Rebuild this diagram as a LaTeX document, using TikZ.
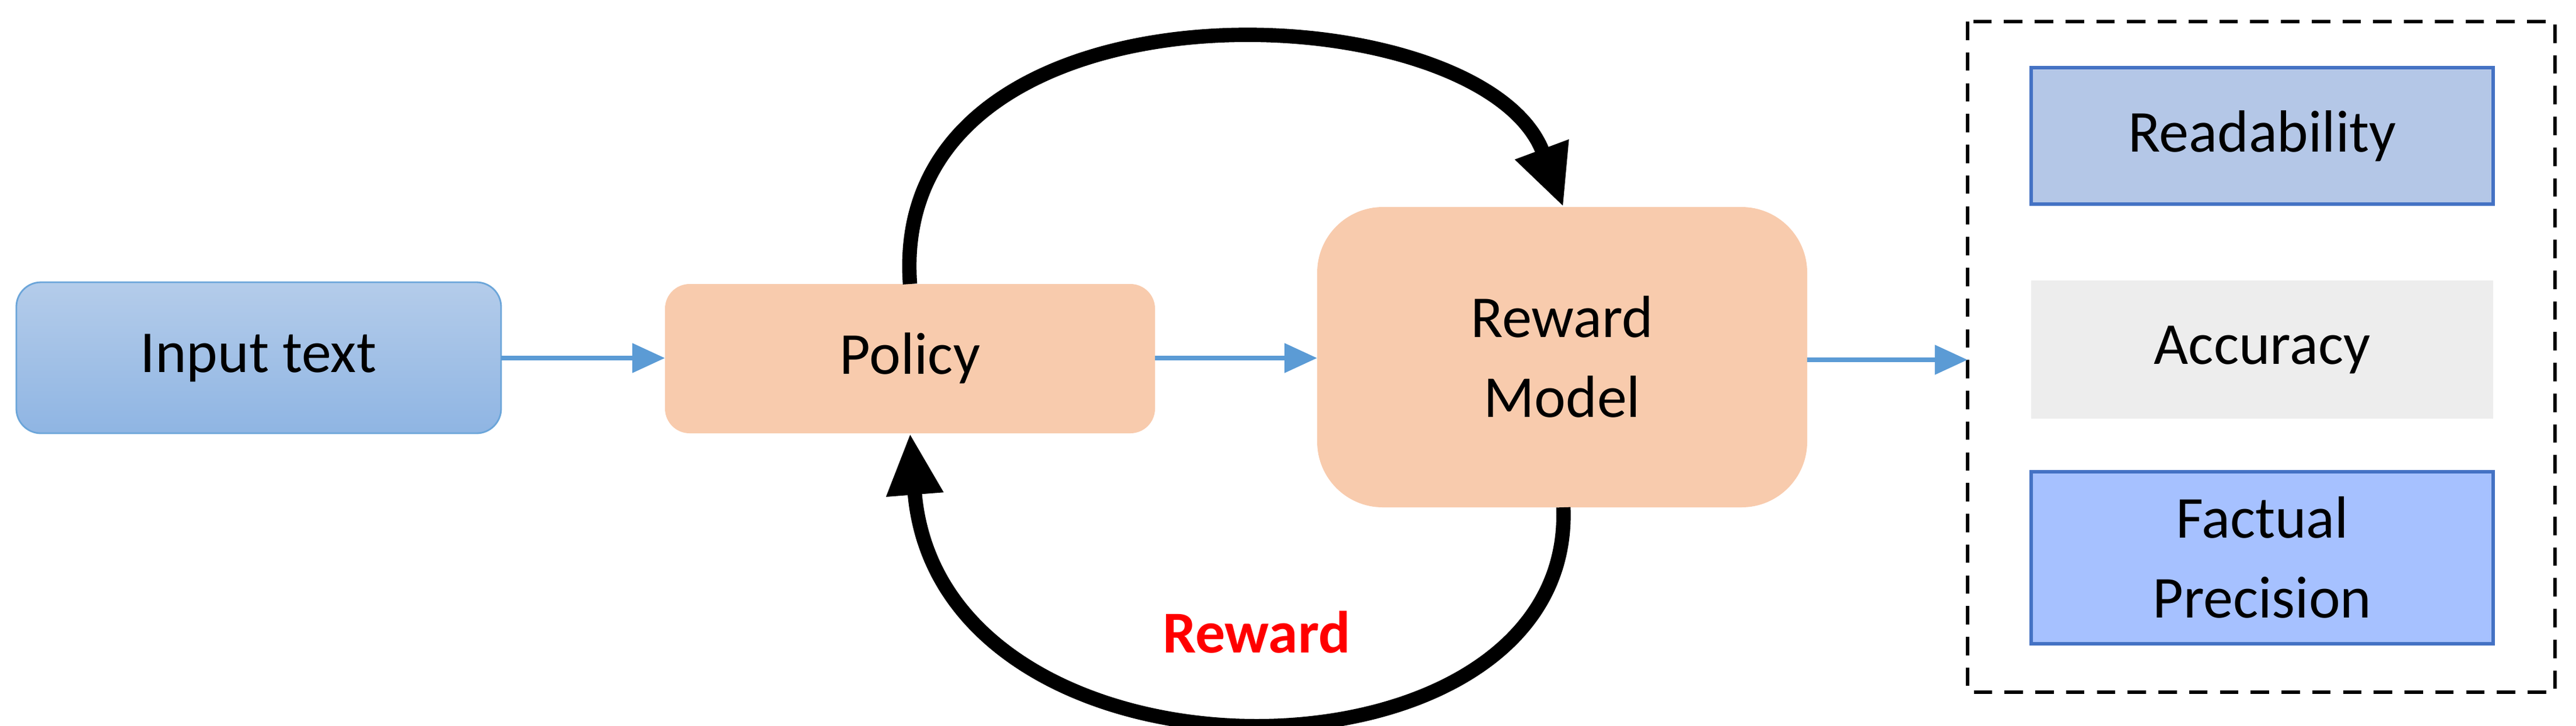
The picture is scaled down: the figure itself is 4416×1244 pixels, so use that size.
\documentclass[tikz,border=0pt]{standalone}
\usepackage{fontspec}
\setmainfont{Carlito}
\usetikzlibrary{arrows.meta}
\definecolor{peach}{HTML}{F8CBAD}
\definecolor{bluearr}{HTML}{5B9BD5}
\definecolor{intop}{RGB}{180,204,234}
\definecolor{inbot}{RGB}{143,181,227}
\definecolor{rdfill}{RGB}{180,199,231}
\definecolor{bdr}{RGB}{68,114,196}
\definecolor{accfill}{RGB}{237,237,237}
\definecolor{fpfill}{RGB}{166,193,255}
\begin{document}
\begin{tikzpicture}[x=0.01cm,y=-0.01cm,
  txt/.style={font=\fontsize{29}{35}\selectfont, align=center},
  blue/.style={draw=bluearr, line width=2.4pt, -{Triangle[length=16pt,width=14pt]}},
  loop/.style={line width=7pt, -{Triangle[length=30pt,width=26pt]}}]
\useasboundingbox (0,0) rectangle (4416,1244);
\path[draw=bluearr!90, top color=intop, bottom color=inbot, rounded corners=12pt, line width=0.8pt] (28,484) rectangle (859,743);
\node[txt] (in) at (443,614) {Input text};
\coordinate (inE) at (859,614);
\fill[peach, rounded corners=12pt] (1140,487) rectangle (1980,743);
\node[txt] (pol) at (1560,614) {Policy};
\coordinate (polW) at (1140,614);
\coordinate (polE) at (1980,614);
\coordinate (polN) at (1560,487);
\coordinate (polS) at (1560,743);
\fill[peach, rounded corners=32pt] (2258,355) rectangle (3098,870);
\node[txt] (rm) at (2678,612) {Reward\\[4pt]Model};
\coordinate (rmW) at (2258,614);
\coordinate (rmE) at (3098,617);
\coordinate (rmN) at (2680,355);
\coordinate (rmS) at (2680,870);
\draw[dashed, line width=1.6pt, dash pattern=on 9pt off 6pt] (3373,37) rectangle (4380,1187);
\coordinate (boxW) at (3373,617);
\draw[fill=rdfill, draw=bdr, line width=1.5pt] (3482,116) rectangle (4274,350);
\node[txt] (rd) at (3878,233) {Readability};
\fill[accfill] (3482,481) rectangle (4274,718);
\node[txt] (acc) at (3878,600) {Accuracy};
\draw[fill=fpfill, draw=bdr, line width=1.5pt] (3482,809) rectangle (4274,1104);
\node[txt] (fp) at (3878,956) {Factual\\[4pt]Precision};
\draw[blue] (inE) -- (polW);
\draw[blue] (polE) -- (rmW);
\draw[blue] (rmE) -- (boxW);
\draw[loop] (polN) .. controls (1520,-60) and (2540,-20) .. (rmN);
\draw[loop] (rmS) .. controls (2700,1370) and (1610,1380) .. (polS);
\node[font=\fontsize{29}{35}\selectfont\bfseries, text=red] (rw) at (2154,1084) {Reward};
\end{tikzpicture}
\end{document}
